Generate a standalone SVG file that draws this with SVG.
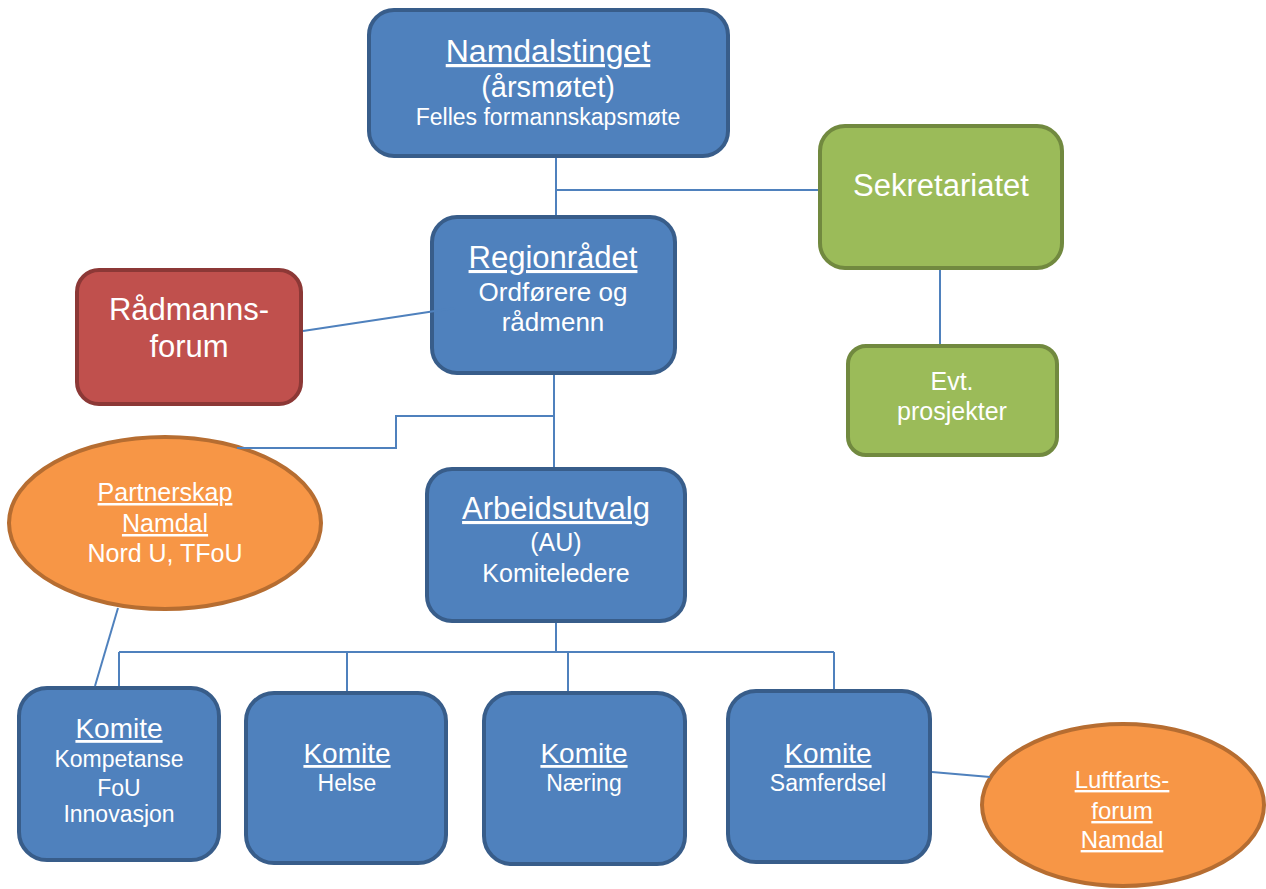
<svg xmlns="http://www.w3.org/2000/svg" width="1266" height="889" viewBox="0 0 1266 889">
<style>
.blue{fill:#4F81BD;stroke:#385D8A;stroke-width:4}
.green{fill:#9BBB59;stroke:#71893F;stroke-width:4}
.red{fill:#C0504D;stroke:#8C3836;stroke-width:4}
.orange{fill:#F79646;stroke:#B66D31;stroke-width:4}
text{font-family:"Liberation Sans",Arial,sans-serif;fill:#fff;text-anchor:middle}
.u{text-decoration:underline}
.conn line,.conn polyline{stroke:#4F81BD;stroke-width:2;fill:none}
</style>
<rect width="1266" height="889" fill="#fff"/>
<g id="namdalstinget">
<rect class="blue" x="369" y="10" width="359" height="146" rx="25"/>
<text x="548" y="62" font-size="32" class="u">Namdalstinget</text>
<text x="548" y="97" font-size="29">(årsmøtet)</text>
<text x="548" y="125" font-size="23">Felles formannskapsmøte</text>
</g>
<g id="sekretariatet">
<rect class="green" x="820" y="126" width="242" height="142" rx="25"/>
<text x="941" y="196" font-size="31">Sekretariatet</text>
</g>
<g id="regionradet">
<rect class="blue" x="432" y="217" width="243" height="156" rx="25"/>
<text x="553" y="268" font-size="31" class="u">Regionrådet</text>
<text x="553" y="301" font-size="26">Ordførere og</text>
<text x="553" y="331" font-size="26">rådmenn</text>
</g>
<g id="radmannsforum">
<rect class="red" x="77" y="270" width="224" height="134" rx="22"/>
<text x="189" y="320" font-size="31">Rådmanns-</text>
<text x="189" y="357" font-size="31">forum</text>
</g>
<g id="evt">
<rect class="green" x="848" y="346" width="209" height="109" rx="18"/>
<text x="952" y="390" font-size="25">Evt.</text>
<text x="952" y="420" font-size="25">prosjekter</text>
</g>
<g id="partnerskap">
<ellipse class="orange" cx="165" cy="523" rx="156" ry="86"/>
<text x="165" y="501" font-size="25" class="u">Partnerskap</text>
<text x="165" y="532" font-size="25" class="u">Namdal</text>
<text x="165" y="562" font-size="25">Nord U, TFoU</text>
</g>
<g id="arbeidsutvalg">
<rect class="blue" x="427" y="469" width="258" height="152" rx="25"/>
<text x="556" y="519" font-size="31" class="u">Arbeidsutvalg</text>
<text x="556" y="551" font-size="25">(AU)</text>
<text x="556" y="582" font-size="25">Komiteledere</text>
</g>
<g id="komite-kompetanse">
<rect class="blue" x="19" y="688" width="200" height="172" rx="28"/>
<text x="119" y="738" font-size="28" class="u">Komite</text>
<text x="119" y="767" font-size="23">Kompetanse</text>
<text x="119" y="796" font-size="23">FoU</text>
<text x="119" y="822" font-size="23">Innovasjon</text>
</g>
<g id="komite-helse">
<rect class="blue" x="246" y="693" width="200" height="170" rx="28"/>
<text x="347" y="763" font-size="28" class="u">Komite</text>
<text x="347" y="791" font-size="23">Helse</text>
</g>
<g id="komite-naering">
<rect class="blue" x="484" y="693" width="201" height="171" rx="28"/>
<text x="584" y="763" font-size="28" class="u">Komite</text>
<text x="584" y="791" font-size="23">Næring</text>
</g>
<g id="komite-samferdsel">
<rect class="blue" x="728" y="691" width="202" height="171" rx="28"/>
<text x="828" y="763" font-size="28" class="u">Komite</text>
<text x="828" y="791" font-size="23">Samferdsel</text>
</g>
<g id="luftfartsforum">
<ellipse class="orange" cx="1123" cy="805" rx="141" ry="81"/>
<text x="1122" y="788" font-size="24" class="u">Luftfarts-</text>
<text x="1122" y="819" font-size="24" class="u">forum</text>
<text x="1122" y="848" font-size="24" class="u">Namdal</text>
</g>
<g id="connectors" class="conn">
<line x1="556" y1="158" x2="556" y2="215"/>
<line x1="556" y1="190" x2="818" y2="190"/>
<line x1="940" y1="270" x2="940" y2="344"/>
<line x1="303" y1="331" x2="455" y2="308"/>
<line x1="554" y1="375" x2="554" y2="467"/>
<polyline points="554,416 396,416 396,448 237,448"/>
<polyline points="556,623 556,652"/>
<line x1="119" y1="652" x2="834" y2="652"/>
<line x1="119" y1="652" x2="119" y2="686"/>
<line x1="347" y1="652" x2="347" y2="691"/>
<line x1="568" y1="652" x2="568" y2="691"/>
<line x1="834" y1="652" x2="834" y2="689"/>
<line x1="118" y1="608" x2="95" y2="686"/>
<line x1="932" y1="772" x2="990" y2="777"/>
</g>
</svg>
